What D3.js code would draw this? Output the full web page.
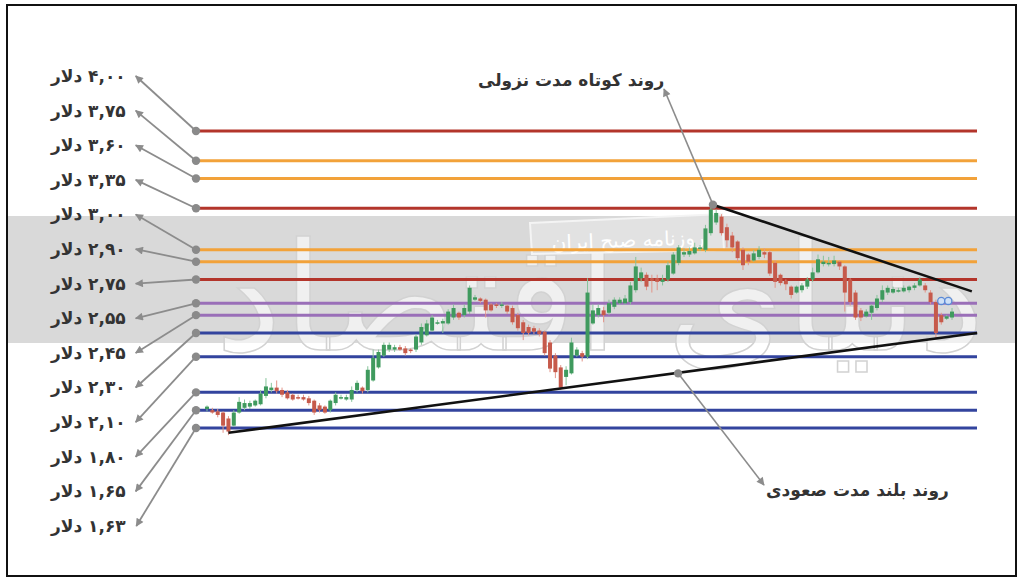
<!DOCTYPE html>
<html><head><meta charset="utf-8">
<script src="https://cdn.jsdelivr.net/npm/d3@7"></script>
<style>html,body{margin:0;padding:0;background:#fff;}svg{display:block;}</style>
</head><body>
<script>
// ---- data ----
const levelValues = [4.00, 3.75, 3.60, 3.35, 3.00, 2.90, 2.75, 2.55, 2.45, 2.30, 2.10, 1.80, 1.65, 1.50];
const levelKinds  = ["red","orange","orange","red","orange","orange","red","purple","purple","blue","blue","blue","blue","blue"];
const tickLabels  = ["۴,۰۰ دلار","۳,۷۵ دلار","۳,۶۰ دلار","۳,۳۵ دلار","۳,۰۰ دلار","۲,۹۰ دلار","۲,۷۵ دلار","۲,۵۵ دلار","۲,۴۵ دلار","۲,۳۰ دلار","۲,۱۰ دلار","۱,۸۰ دلار","۱,۶۵ دلار","۱,۶۳ دلار"];

const opens = [1.66,1.65,1.64,1.63,1.58,1.52,1.63,1.67,1.68,1.69,
1.70,1.77,1.82,1.84,1.82,1.80,1.78,1.76,1.76,1.75,
1.73,1.69,1.68,1.65,1.71,1.75,1.74,1.74,1.82,1.84,
1.82,1.90,2.01,2.11,2.16,2.16,2.18,2.17,2.16,2.16,
2.22,2.28,2.32,2.38,2.38,2.38,2.43,2.47,2.45,2.48,
2.58,2.59,2.58,2.54,2.54,2.53,2.53,2.51,2.45,2.39,
2.35,2.34,2.32,2.31,2.22,2.11,2.01,1.93,1.96,2.11,
2.13,2.10,2.38,2.45,2.49,2.47,2.52,2.55,2.55,2.56,
2.66,2.76,2.79,2.76,2.76,2.73,2.75,2.80,2.89,2.96,
2.96,2.97,3.01,3.00,3.14,3.23,3.28,3.19,3.12,3.07,
3.00,2.96,2.91,2.94,2.98,2.98,2.89,2.79,2.74,2.69,
2.64,2.66,2.69,2.75,2.81,2.88,2.88,2.88,2.90,2.86,
2.75,2.64,2.49,2.44,2.47,2.51,2.58,2.64,2.64,2.65,
2.65,2.66,2.68,2.70,2.70,2.64,2.56,2.45,2.42,2.43];
const closes = [1.68,1.63,1.61,1.52,1.47,1.63,1.72,1.71,1.71,1.73,
1.79,1.85,1.84,1.81,1.78,1.75,1.74,1.75,1.74,1.71,
1.63,1.65,1.63,1.73,1.78,1.76,1.76,1.82,1.88,1.81,
1.99,2.09,2.14,2.20,2.20,2.18,2.16,2.13,2.15,2.27,
2.35,2.38,2.43,2.39,2.40,2.48,2.51,2.43,2.51,2.68,
2.60,2.57,2.49,2.49,2.53,2.54,2.48,2.39,2.34,2.30,
2.30,2.31,2.29,2.13,2.00,1.97,1.84,1.99,2.22,2.16,
2.10,2.64,2.49,2.51,2.45,2.55,2.58,2.58,2.59,2.70,
2.86,2.81,2.69,2.74,2.73,2.75,2.87,2.96,3.02,2.98,
2.99,3.02,3.02,3.18,3.34,3.31,3.14,3.08,3.02,2.93,
2.87,2.90,2.97,3.00,2.96,2.80,2.73,2.72,2.71,2.62,
2.69,2.70,2.75,2.81,2.92,2.90,2.89,2.91,2.86,2.64,
2.56,2.43,2.43,2.48,2.53,2.59,2.66,2.68,2.67,2.66,
2.68,2.69,2.70,2.75,2.66,2.56,2.30,2.39,2.44,2.48];
const highs = [1.69,1.67,1.66,1.64,1.60,1.65,1.76,1.74,1.73,1.74,
1.82,1.92,1.88,1.90,1.84,1.82,1.79,1.78,1.78,1.77,
1.74,1.71,1.69,1.74,1.80,1.78,1.78,1.85,1.90,1.85,
2.02,2.16,2.16,2.22,2.22,2.20,2.20,2.19,2.17,2.29,
2.38,2.41,2.45,2.41,2.42,2.50,2.54,2.48,2.54,2.70,
2.62,2.60,2.59,2.55,2.55,2.56,2.54,2.53,2.47,2.41,
2.37,2.36,2.34,2.32,2.24,2.13,2.03,2.02,2.26,2.18,
2.15,2.76,2.54,2.54,2.52,2.58,2.60,2.60,2.62,2.73,
2.94,2.85,2.81,2.79,2.79,2.79,2.90,2.98,3.04,3.01,
3.02,3.06,3.04,3.21,3.38,3.34,3.30,3.22,3.15,3.08,
3.02,2.97,3.00,3.03,3.01,3.00,2.91,2.80,2.75,2.70,
2.70,2.72,2.77,2.85,2.96,2.95,2.94,2.95,2.91,2.87,
2.76,2.66,2.51,2.50,2.54,2.62,2.70,2.70,2.69,2.68,
2.70,2.70,2.72,2.77,2.72,2.66,2.58,2.47,2.45,2.51];
const lows = [1.64,1.62,1.59,1.46,1.44,1.51,1.62,1.65,1.66,1.68,
1.69,1.75,1.80,1.79,1.76,1.74,1.73,1.74,1.73,1.69,
1.61,1.63,1.62,1.63,1.69,1.74,1.73,1.72,1.80,1.79,
1.80,1.89,2.00,2.10,2.14,2.14,2.15,2.11,2.13,2.14,
2.20,2.27,2.31,2.37,2.30,2.37,2.41,2.41,2.43,2.46,
2.57,2.55,2.43,2.48,2.51,2.51,2.46,2.37,2.32,2.24,
2.28,2.29,2.27,2.11,1.97,1.92,1.82,1.86,1.95,2.10,
2.06,2.08,2.37,2.43,2.39,2.45,2.50,2.54,2.54,2.54,
2.64,2.73,2.66,2.64,2.66,2.70,2.73,2.79,2.87,2.94,
2.94,2.96,2.99,2.98,3.12,3.21,3.12,3.02,2.98,2.90,
2.83,2.87,2.90,2.92,2.93,2.78,2.68,2.70,2.66,2.59,
2.63,2.64,2.67,2.73,2.80,2.86,2.86,2.86,2.83,2.48,
2.53,2.41,2.40,2.43,2.41,2.49,2.56,2.62,2.63,2.64,
2.64,2.64,2.66,2.69,2.64,2.54,2.26,2.37,2.41,2.41];

// trend lines (candle index, price)
const supportLine    = [{i: 4, p: 1.46}, {i: 143.7, p: 2.30}];
const resistanceLine = [{i: 94.4, p: 3.38}, {i: 142.7, p: 2.65}];
const supportMarker    = {i: 87.9, p: 1.96};
const resistanceMarker = {i: 94.4, p: 3.38};
const annotations = ["روند کوتاه مدت نزولی", "روند بلند مدت صعودی"];
const watermarkText = "دنیای اقتصاد";
const mastheadText = "روزنامه صبح ایران";

// ---- drawing ----
const W = 1025, H = 581;
const FONT = "DejaVu Sans";
const colors = {red:"#b3352b", orange:"#f2a23a", purple:"#9a6fb8", blue:"#33449e"};
const svg = d3.select("body").append("svg").attr("width", W).attr("height", H);
svg.append("rect").attr("width", W).attr("height", H).attr("fill", "#fff");

const y = d3.scaleLinear().domain([1.5, 4.0]).range([428, 131]);
const x = d3.scaleLinear().domain([0, opens.length - 1]).range([207, 952]);
const lineX0 = 196, lineX1 = 977;

const defs = svg.append("defs");
defs.append("clipPath").attr("id", "frameClip").append("rect").attr("x", 200).attr("y", 120).attr("width", 810).attr("height", 300);
defs.append("marker").attr("id", "arr").attr("viewBox", "0 0 10 10").attr("refX", 9).attr("refY", 5)
  .attr("markerWidth", 11).attr("markerHeight", 8).attr("markerUnits", "userSpaceOnUse").attr("orient", "auto")
  .append("path").attr("d", "M0,0 L10,5 L0,10 z").attr("fill", "#8c8c8c");

// gray band + watermark
svg.append("rect").attr("x", 8).attr("y", 216).attr("width", 1007).attr("height", 127).attr("fill", "#d9d9d9");
svg.append("g").attr("clip-path", "url(#frameClip)")
  .append("text").attr("x", 600).attr("y", 350).attr("text-anchor", "middle")
  .attr("direction", "rtl").attr("font-family", FONT).attr("font-size", 150)
  .attr("textLength", 770).attr("lengthAdjust", "spacingAndGlyphs")
  .attr("fill", "#ffffff").attr("fill-opacity", 0.6).attr("stroke", "#d2d2d2").attr("stroke-width", 1.5)
  .text(watermarkText);

// masthead banner
svg.append("path").attr("d", "M530,223 L722,214 L724,250 L532,254 Z")
  .attr("fill", "#e2e2e2").attr("stroke", "#f4f4f4").attr("stroke-width", 2);
svg.append("text").attr("x", 628).attr("y", 240).attr("text-anchor", "middle").attr("dy", "0.35em")
  .attr("direction", "rtl").attr("font-family", FONT).attr("font-size", 20)
  .attr("transform", "rotate(-2,628,240)")
  .attr("fill", "#ffffff").text(mastheadText);

// level lines
svg.append("g").selectAll("line").data(levelValues).join("line")
  .attr("x1", lineX0).attr("x2", lineX1).attr("y1", d => y(d)).attr("y2", d => y(d))
  .attr("stroke", (d, i) => colors[levelKinds[i]]).attr("stroke-width", 3);

// left labels
const labelY = d3.scalePoint().domain(d3.range(tickLabels.length)).range([76, 526]);
const lab = svg.append("g").selectAll("text").data(tickLabels).join("text")
  .attr("x", 90).attr("y", (d, i) => labelY(i)).attr("dy", "0.35em")
  .attr("direction", "rtl").attr("text-anchor", "middle")
  .attr("font-family", FONT).attr("font-weight", "bold").attr("font-size", 17).attr("fill", "#333")
  .text(d => d);
const labelRights = [];
lab.each(function(d, i) {
  const b = this.getBBox();
  const sx = +d3.select(this).attr("x") + (50 - b.x);
  d3.select(this).attr("x", sx);
  labelRights[i] = 50 + b.width;
});
// arrows from dots to labels
svg.append("g").selectAll("line").data(levelValues).join("line")
  .attr("x1", lineX0).attr("y1", d => y(d))
  .attr("x2", (d, i) => labelRights[i] + 10).attr("y2", (d, i) => labelY(i))
  .attr("stroke", "#8c8c8c").attr("stroke-width", 1.8).attr("marker-end", "url(#arr)");
svg.append("g").selectAll("circle").data(levelValues).join("circle")
  .attr("cx", lineX0).attr("cy", d => y(d)).attr("r", 4.2).attr("fill", "#8a8a8a");

// candles
const candles = opens.map((o, i) => ({i, o, c: closes[i], h: highs[i], l: lows[i]}));
const cg = svg.append("g");
cg.selectAll("line").data(candles).join("line")
  .attr("x1", d => x(d.i)).attr("x2", d => x(d.i)).attr("y1", d => y(d.h)).attr("y2", d => y(d.l))
  .attr("stroke", d => d.c >= d.o ? "#86c49a" : "#e39488").attr("stroke-width", 1);
cg.selectAll("rect").data(candles).join("rect")
  .attr("x", d => x(d.i) - 2).attr("width", 4)
  .attr("y", d => y(Math.max(d.o, d.c)))
  .attr("height", d => Math.max(1.5, Math.abs(y(d.o) - y(d.c))))
  .attr("fill", d => d.c >= d.o ? "#3f9a5e" : "#c65a4b");

// trend lines
const tl = d3.line().x(d => x(d.i)).y(d => y(d.p));
svg.append("path").attr("d", tl(supportLine)).attr("stroke", "#111").attr("stroke-width", 2.6).attr("fill", "none");
svg.append("path").attr("d", tl(resistanceLine)).attr("stroke", "#111").attr("stroke-width", 2.6).attr("fill", "none");

// small blue markers at the end
[0, 1].forEach(k => {
  svg.append("circle").attr("cx", x(opens.length - 3) + k * 7).attr("cy", y(2.57)).attr("r", 3.6)
    .attr("fill", "#cfe0f6").attr("stroke", "#5b8ad6").attr("stroke-width", 1.3);
});

// annotations
svg.append("line").attr("x1", x(resistanceMarker.i)).attr("y1", y(resistanceMarker.p)).attr("x2", 664).attr("y2", 89)
  .attr("stroke", "#8c8c8c").attr("stroke-width", 1.6).attr("marker-end", "url(#arr)");
svg.append("line").attr("x1", x(supportMarker.i)).attr("y1", y(supportMarker.p)).attr("x2", 764).attr("y2", 485)
  .attr("stroke", "#8c8c8c").attr("stroke-width", 1.6).attr("marker-end", "url(#arr)");
svg.append("circle").attr("cx", x(resistanceMarker.i)).attr("cy", y(resistanceMarker.p)).attr("r", 4.2).attr("fill", "#8a8a8a");
svg.append("circle").attr("cx", x(supportMarker.i)).attr("cy", y(supportMarker.p)).attr("r", 4.2).attr("fill", "#8a8a8a");

function placeLeft(t, left) {
  const b = t.node().getBBox();
  t.attr("x", +t.attr("x") + (left - b.x));
}
const a1 = svg.append("text").attr("x", 570).attr("y", 80).attr("dy", "0.35em").attr("direction", "rtl").attr("text-anchor", "middle")
  .attr("font-family", FONT).attr("font-weight", "bold").attr("font-size", 17).attr("fill", "#333").text(annotations[0]);
const a2 = svg.append("text").attr("x", 860).attr("y", 490).attr("dy", "0.35em").attr("direction", "rtl").attr("text-anchor", "middle")
  .attr("font-family", FONT).attr("font-weight", "bold").attr("font-size", 17).attr("fill", "#333").text(annotations[1]);
placeLeft(a1, 478); placeLeft(a2, 766);

// frame
svg.append("rect").attr("x", 7).attr("y", 5).attr("width", 1009).attr("height", 571)
  .attr("fill", "none").attr("stroke", "#111").attr("stroke-width", 2);
</script>
</body></html>
